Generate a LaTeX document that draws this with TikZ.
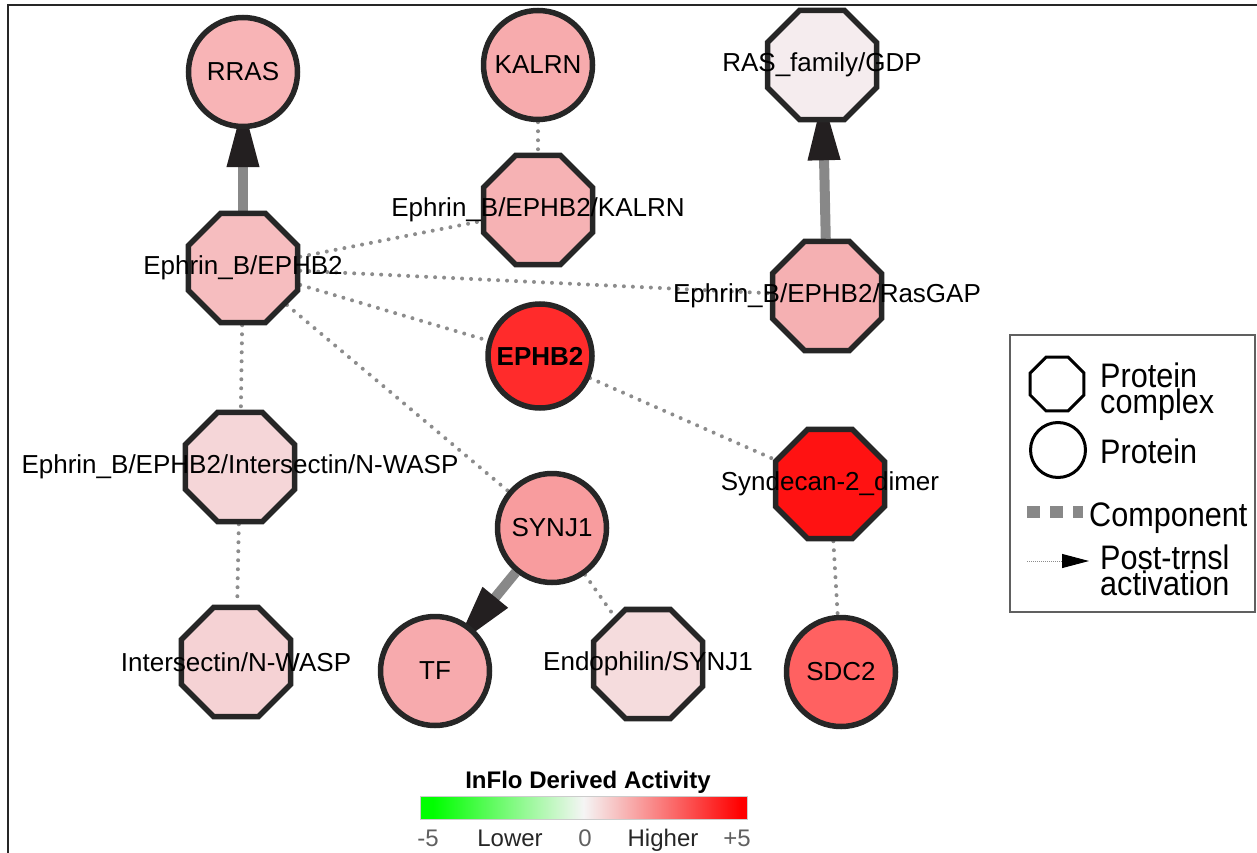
\documentclass[tikz,border=0pt]{standalone}
\usepackage{fontspec}
\setmainfont{Liberation Sans}
\newfontfamily\legfont[FakeStretch=0.9]{Liberation Sans}
\usetikzlibrary{shapes.geometric,arrows.meta,backgrounds}
\definecolor{nodeborder}{HTML}{262626}
\definecolor{compgray}{HTML}{888888}
\definecolor{dotgray}{HTML}{8C8C8C}
\definecolor{arrowblack}{HTML}{231F20}
\definecolor{cRRAS}{HTML}{F8B4B6}
\definecolor{cKALRN}{HTML}{F7ABAD}
\definecolor{cRASGDP}{HTML}{F5ECEE}
\definecolor{cEBK}{HTML}{F6B2B4}
\definecolor{cEB}{HTML}{F6BDBF}
\definecolor{cGAP}{HTML}{F5B0B2}
\definecolor{cEPHB}{HTML}{FF2B2B}
\definecolor{cSYND}{HTML}{FF1212}
\definecolor{cEBIN}{HTML}{F5D6D8}
\definecolor{cSYNJ}{HTML}{F89C9E}
\definecolor{cINW}{HTML}{F5D2D4}
\definecolor{cTF}{HTML}{F7AAAD}
\definecolor{cENDO}{HTML}{F5DCDD}
\definecolor{cSDC}{HTML}{FF6161}
\definecolor{legendgray}{HTML}{606060}
\definecolor{numgray}{HTML}{606060}
\pgfdeclarehorizontalshading{activity}{100bp}{color(0bp)=(green); color(27bp)=(green); color(50bp)=(white!96!black); color(74bp)=(red); color(100bp)=(red)}
\begin{document}
\begin{tikzpicture}[x=1pt,y=-1pt,
  lbl/.style={font=\fontsize{26}{28}\selectfont, inner sep=0pt, text=black},
  lblb/.style={font=\fontsize{26}{28}\selectfont\bfseries, inner sep=0pt, text=black},
  cplx/.style={regular polygon, regular polygon sides=8, minimum size=118pt, inner sep=0pt, draw=nodeborder, line width=5.5pt},
  prot/.style={circle, minimum size=109pt, inner sep=0pt, draw=nodeborder, line width=5.5pt},
  comp/.style={draw=compgray, line width=10pt, -{Triangle[length=65pt,width=30pt,color=arrowblack,fill=arrowblack]}, shorten >=-27pt},
  dotline/.style={draw=dotgray, line width=4pt, line cap=round, dash pattern=on 0pt off 9pt},
  legtext/.style={font=\legfont\fontsize{34}{28}\selectfont, inner sep=0pt, anchor=base west},
  bartext/.style={font=\fontsize{24}{26}\selectfont, inner sep=0pt, anchor=base}
]
\useasboundingbox (0,0) rectangle (1257,853);
\draw[line width=2.5pt, black!85] (8,853) -- (8,5) -- (1257,5);

% nodes
\node[prot, fill=cRRAS, label={[lbl]center:RRAS}] (rras) at (243,72) {};
\node[prot, fill=cKALRN, label={[lbl]center:KALRN}] (kalrn) at (538,65) {};
\node[cplx, fill=cRASGDP, label={[lbl]center:RAS\_family/GDP}] (rasgdp) at (822,65) {};
\node[cplx, fill=cEBK, label={[lbl]center:Ephrin\_B/EPHB2/KALRN}] (ebk) at (538,210) {};
\node[cplx, fill=cEB, label={[lbl]center:Ephrin\_B/EPHB2}] (eb) at (243,268) {};
\node[cplx, fill=cGAP, label={[lbl]center:Ephrin\_B/EPHB2/RasGAP}] (gap) at (827,296) {};
\node[prot, fill=cEPHB, minimum size=104pt, label={[lblb]center:EPHB2}] (ephb2) at (540,356) {};
\node[cplx, fill=cSYND, label={[lbl]center:Syndecan-2\_dimer}] (synd) at (830,484) {};
\node[cplx, fill=cEBIN, label={[lbl]center:Ephrin\_B/EPHB2/Intersectin/N-WASP}] (ebin) at (240,467) {};
\node[prot, fill=cSYNJ, label={[lbl]center:SYNJ1}] (synj) at (552,528) {};
\node[cplx, fill=cINW, label={[lbl]center:Intersectin/N-WASP}] (inw) at (236,662) {};
\node[prot, fill=cTF, label={[lbl]center:TF}] (tf) at (435,671) {};
\node[cplx, fill=cENDO, label={[lbl]center:Endophilin/SYNJ1}] (endo) at (648,664) {};
\node[prot, fill=cSDC, label={[lbl]center:SDC2}] (sdc) at (841,672) {};

% edges
\begin{scope}[on background layer]
\draw[comp] (eb) -- (rras);
\draw[comp] (gap) -- (rasgdp);
\draw[comp] (synj) -- (tf);
\draw[dotline] (kalrn) -- (ebk);
\draw[dotline] (eb) -- (ebk);
\draw[dotline] (eb) -- (gap);
\draw[dotline] (eb) -- (ephb2);
\draw[dotline] (eb) -- (synj);
\draw[dotline] (eb) -- (ebin);
\draw[dotline] (ebin) -- (inw);
\draw[dotline] (synj) -- (endo);
\draw[dotline] (ephb2) -- (synd);
\draw[dotline] (synd) -- (sdc);
\end{scope}

% legend
\draw[legendgray, line width=2pt] (1010,335) rectangle (1255,612);
\node[regular polygon, regular polygon sides=8, minimum size=58pt, inner sep=0pt, draw=black, line width=3pt] (lgcplx) at (1057,384) {};
\node[circle, minimum size=55pt, inner sep=0pt, draw=black, line width=3pt] (lgprot) at (1058,450) {};
\node[legtext] (lt1) at (1100,387) {Protein};
\node[legtext] (lt2) at (1100,413) {complex};
\node[legtext] (lt3) at (1100,463) {Protein};
\coordinate (lc1) at (1027,512);
\coordinate (lc2) at (1083,512);
\draw[compgray, line width=12pt, dash pattern=on 13pt off 10pt] (lc1) -- (lc2);
\node[legtext] (lt4) at (1089,526) {Component};
\coordinate (la1) at (1027,561);
\coordinate (la2) at (1089,561);
\draw[dotgray, line width=1pt, dash pattern=on 1pt off 1pt, -{Triangle[length=27pt,width=14pt,color=black,fill=black]}] (la1) -- (la2);
\node[legtext] (lt5) at (1100,569) {Post-trnsl};
\node[legtext] (lt6) at (1100,595) {activation};

% color bar
\node[font=\fontsize{24}{26}\selectfont\bfseries, inner sep=0pt, anchor=base] (cbt) at (588,788) {InFlo Derived Activity};
\shade[shading=activity, draw=black!20, line width=0.8pt] (420,796) rectangle (747,819);
\node[bartext, text=numgray] (cb1) at (428,846) {-5};
\node[bartext, text=black!85] (cb2) at (510,846) {Lower};
\node[bartext, text=numgray] (cb3) at (585,846) {0};
\node[bartext, text=black!85] (cb4) at (663,846) {Higher};
\node[bartext, text=numgray] (cb5) at (737,846) {+5};
\end{tikzpicture}
\end{document}
